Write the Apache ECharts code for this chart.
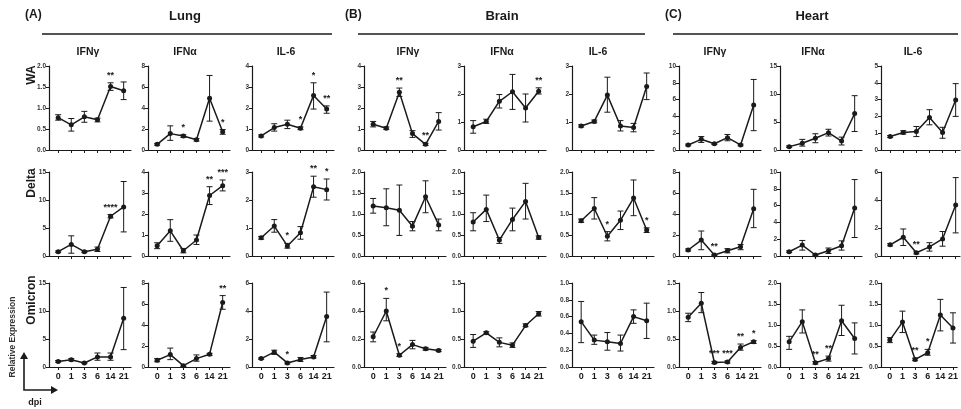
<!DOCTYPE html>
<html>
<head>
<meta charset="utf-8">
<script src="https://cdn.jsdelivr.net/npm/echarts@6/dist/echarts.min.js"></script>
<style>
  html, body { margin: 0; padding: 0; background: #fff; }
  #chart { width: 961px; height: 409px; }
</style>
</head>
<body>
<div id="chart"></div>
<script>
// categories
var dpi = ['0', '1', '3', '6', '14', '21'];
var tissues = ['Lung', 'Brain', 'Heart'];
var panelLetters = ['(A)', '(B)', '(C)'];
var cytokines = ['IFNγ', 'IFNα', 'IL-6'];
var variants = ['WA', 'Delta', 'Omicron'];

// y scales, one row per variant, 9 panels (Lung x3, Brain x3, Heart x3)
var yMax = [[2, 8, 4, 4, 3, 3, 10, 15, 5], [15, 4, 3, 2, 2, 2, 8, 10, 6], [15, 8, 6, 0.6, 1.5, 1, 1.5, 2, 2]];
var yStep = [[0.5, 2, 1, 1, 1, 1, 2, 5, 1], [5, 1, 1, 0.5, 0.5, 0.5, 2, 2, 2], [5, 2, 2, 0.2, 0.5, 0.2, 0.5, 0.5, 0.5]];

// WA
var waMean = [
  [0.77, 0.6, 0.79, 0.72, 1.51, 1.41], [0.54, 1.56, 1.33, 0.98, 4.93, 1.73], [0.67, 1.07, 1.23, 1.04, 2.6, 1.95],
  [1.23, 1.04, 2.75, 0.78, 0.27, 1.36], [0.83, 1.02, 1.74, 2.08, 1.5, 2.1], [0.86, 1.02, 1.96, 0.86, 0.8, 2.27],
  [0.6, 1.27, 0.75, 1.47, 0.6, 5.36], [0.6, 1.2, 2.1, 3.1, 1.6, 6.5], [0.8, 1.04, 1.1, 1.94, 1.04, 2.98]
];
var waLow = [
  [0.71, 0.45, 0.66, 0.67, 1.42, 1.2], [0.45, 0.92, 1.2, 0.85, 2.75, 1.5], [0.62, 0.9, 1.02, 0.97, 1.95, 1.75],
  [1.1, 0.98, 2.55, 0.6, 0.22, 0.95], [0.6, 0.95, 1.5, 1.45, 1.0, 2.0], [0.82, 0.97, 1.35, 0.68, 0.65, 1.8],
  [0.5, 0.9, 0.65, 1.1, 0.5, 2.3], [0.45, 0.7, 1.3, 2.5, 0.9, 3.3], [0.74, 0.95, 0.8, 1.5, 0.7, 2.0]
];
var waHigh = [
  [0.84, 0.75, 0.92, 0.76, 1.6, 1.62], [0.63, 2.3, 1.45, 1.1, 7.1, 1.95], [0.72, 1.25, 1.42, 1.1, 3.2, 2.1],
  [1.36, 1.1, 2.95, 0.92, 0.32, 1.78], [1.05, 1.1, 1.98, 2.7, 2.0, 2.22], [0.9, 1.07, 2.6, 1.05, 0.95, 2.75],
  [0.7, 1.6, 0.85, 1.85, 0.7, 8.4], [0.75, 1.9, 2.9, 3.7, 2.3, 9.7], [0.86, 1.15, 1.4, 2.4, 1.35, 3.95]
];
var waStars = [
  ['', '', '', '', '**', ''], ['', '', '*', '', '', '*'], ['', '', '', '*', '*', '**'],
  ['', '', '**', '', '**', ''], ['', '', '', '', '', '**'], ['', '', '', '', '', ''],
  ['', '', '', '', '', ''], ['', '', '', '', '', ''], ['', '', '', '', '', '']
];

// Delta
var deltaMean = [
  [0.77, 2.07, 0.77, 1.19, 7.1, 8.77], [0.49, 1.2, 0.25, 0.76, 2.88, 3.35], [0.65, 1.07, 0.36, 0.83, 2.47, 2.37],
  [1.19, 1.15, 1.09, 0.71, 1.41, 0.74], [0.81, 1.11, 0.38, 0.87, 1.3, 0.44], [0.84, 1.13, 0.47, 0.85, 1.38, 0.62],
  [0.57, 1.52, 0.1, 0.5, 0.88, 4.5], [0.51, 1.3, 0.12, 0.63, 1.22, 5.7], [0.8, 1.34, 0.23, 0.65, 1.22, 3.65]
];
var deltaLow = [
  [0.6, 0.5, 0.6, 0.8, 6.8, 4.3], [0.35, 0.7, 0.15, 0.55, 2.45, 3.1], [0.6, 0.85, 0.28, 0.6, 2.1, 2.0],
  [1.02, 0.72, 0.49, 0.6, 1.03, 0.6], [0.6, 0.82, 0.3, 0.6, 0.88, 0.4], [0.8, 0.88, 0.36, 0.63, 0.96, 0.56],
  [0.47, 0.6, 0.05, 0.3, 0.6, 2.7], [0.4, 0.7, 0.05, 0.3, 0.7, 2.2], [0.72, 0.75, 0.15, 0.35, 0.7, 1.65]
];
var deltaHigh = [
  [0.9, 3.6, 0.9, 1.6, 7.4, 13.3], [0.63, 1.73, 0.36, 1.0, 3.3, 3.62], [0.7, 1.3, 0.45, 1.05, 2.85, 2.75],
  [1.37, 1.6, 1.69, 0.82, 1.79, 0.88], [1.03, 1.45, 0.44, 1.14, 1.73, 0.48], [0.88, 1.39, 0.58, 1.07, 1.81, 0.67],
  [0.67, 2.38, 0.15, 0.7, 1.1, 6.35], [0.62, 1.85, 0.2, 0.95, 1.8, 9.1], [0.88, 1.93, 0.3, 0.95, 1.75, 5.6]
];
var deltaStars = [
  ['', '', '', '', '****', ''], ['', '', '', '', '**', '***'], ['', '', '*', '', '**', '*'],
  ['', '', '', '', '', ''], ['', '', '', '', '', ''], ['', '', '*', '', '', '*'],
  ['', '', '**', '', '', ''], ['', '', '', '', '', ''], ['', '', '**', '', '', '']
];

// Omicron
var omicronMean = [
  [1.0, 1.3, 0.72, 1.8, 1.8, 8.7], [0.64, 1.18, 0.13, 0.8, 1.22, 6.14], [0.6, 1.06, 0.29, 0.53, 0.72, 3.6],
  [0.216, 0.4, 0.084, 0.16, 0.13, 0.118], [0.46, 0.61, 0.44, 0.39, 0.74, 0.95], [0.54, 0.32, 0.3, 0.28, 0.6, 0.55],
  [0.89, 1.14, 0.08, 0.09, 0.35, 0.45], [0.6, 1.08, 0.1, 0.2, 1.1, 0.68], [0.64, 1.07, 0.18, 0.34, 1.24, 0.93]
];
var omicronLow = [
  [0.85, 1.1, 0.6, 1.2, 1.2, 3.1], [0.5, 0.7, 0.05, 0.55, 1.1, 5.5], [0.55, 0.9, 0.22, 0.4, 0.65, 1.8],
  [0.18, 0.33, 0.075, 0.13, 0.12, 0.11], [0.35, 0.59, 0.36, 0.35, 0.72, 0.91], [0.29, 0.27, 0.2, 0.19, 0.52, 0.34],
  [0.81, 0.97, 0.06, 0.07, 0.3, 0.42], [0.42, 0.81, 0.07, 0.14, 0.75, 0.31], [0.58, 0.82, 0.15, 0.28, 0.86, 0.57]
];
var omicronHigh = [
  [1.15, 1.5, 0.85, 2.5, 2.5, 14.2], [0.8, 1.8, 0.2, 1.15, 1.3, 6.8], [0.65, 1.2, 0.35, 0.68, 0.82, 5.35],
  [0.25, 0.49, 0.095, 0.19, 0.14, 0.126], [0.58, 0.63, 0.52, 0.43, 0.77, 0.99], [0.78, 0.38, 0.41, 0.38, 0.68, 0.76],
  [0.96, 1.33, 0.1, 0.11, 0.41, 0.47], [0.73, 1.36, 0.13, 0.26, 1.47, 1.05], [0.7, 1.33, 0.21, 0.42, 1.61, 1.29]
];
var omicronStars = [
  ['', '', '', '', '', ''], ['', '', '', '', '', '**'], ['', '', '*', '', '', ''],
  ['', '*', '*', '', '', ''], ['', '', '', '', '', ''], ['', '', '', '', '', ''],
  ['', '', '***', '***', '**', '*'], ['', '', '**', '**', '', ''], ['', '', '**', '*', '', '']
];

var chart = echarts.init(document.getElementById('chart'));

var rows = [
  [waMean, waLow, waHigh, waStars],
  [deltaMean, deltaLow, deltaHigh, deltaStars],
  [omicronMean, omicronLow, omicronHigh, omicronStars]
];

// layout
var colLeft = [49, 148, 252, 364, 464, 572, 679, 780, 881];
var rowTop = [66, 172, 283];
var pxPerDay = 13.1;
var font = 'Arial, "Liberation Sans", sans-serif';
var ink = '#1a1a1a';

var grids = [], xAxes = [], yAxes = [], series = [];

rows.forEach(function (set, r) {
  for (var c = 0; c < 9; c++) {
    var k = grids.length;
    var w = c === 8 ? 79 : 82;
    var step = yStep[r][c];
    grids.push({ left: colLeft[c], top: rowTop[r], width: w, height: 84 });
    xAxes.push({
      gridIndex: k, type: 'value', min: -0.7, max: -0.7 + w / pxPerDay,
      splitLine: { show: false },
      axisLine: { onZero: false, lineStyle: { color: ink, width: 1.2 } },
      axisTick: { customValues: [0, 1, 2, 3, 4, 5], length: 3, lineStyle: { color: ink, width: 1 } },
      axisLabel: {
        show: r === 2, customValues: [0, 1, 2, 3, 4, 5], margin: 5,
        fontSize: 9, fontWeight: 'bold', color: ink, fontFamily: font,
        formatter: function (v) { return dpi[Math.round(v)]; }
      }
    });
    yAxes.push({
      gridIndex: k, type: 'value', min: 0, max: yMax[r][c], interval: step,
      splitLine: { show: false },
      axisLine: { show: true, onZero: false, lineStyle: { color: ink, width: 1.2 } },
      axisTick: { show: true, length: 3, lineStyle: { color: ink, width: 1 } },
      axisLabel: {
        margin: 3, fontSize: 6.5, fontWeight: 'bold', color: '#333', fontFamily: font,
        formatter: (function (s) { return function (v) { return v.toFixed(s < 1 ? 1 : 0); }; })(step)
      }
    });

    var mean = set[0][c], low = set[1][c], high = set[2][c], stars = set[3][c];

    // error bars with caps, significance stars above
    series.push({
      type: 'custom', xAxisIndex: k, yAxisIndex: k, clip: false, z: 2,
      data: low.map(function (v, i) { return [i, v, high[i]]; }),
      encode: { x: 0, y: [1, 2] },
      renderItem: (function (stars) {
        return function (params, api) {
          var x = api.value(0);
          var lo = api.coord([x, api.value(1)]);
          var hi = api.coord([x, api.value(2)]);
          var st = { stroke: ink, lineWidth: 1 };
          var kids = [
            { type: 'line', shape: { x1: lo[0], y1: lo[1], x2: hi[0], y2: hi[1] }, style: st },
            { type: 'line', shape: { x1: hi[0] - 3, y1: hi[1], x2: hi[0] + 3, y2: hi[1] }, style: st },
            { type: 'line', shape: { x1: lo[0] - 3, y1: lo[1], x2: lo[0] + 3, y2: lo[1] }, style: st }
          ];
          var s = stars[params.dataIndex];
          if (s) {
            kids.push({
              type: 'text', x: hi[0], y: hi[1] - 3,
              style: { text: s, fill: ink, font: 'bold 9px Arial', align: 'center', verticalAlign: 'bottom' }
            });
          }
          return { type: 'group', children: kids };
        };
      })(stars)
    });

    series.push({
      type: 'line', xAxisIndex: k, yAxisIndex: k, z: 3,
      data: mean.map(function (v, i) { return [i, v]; }),
      symbol: 'circle', symbolSize: 5, showSymbol: true,
      itemStyle: { color: ink },
      lineStyle: { color: ink, width: 1.5 },
      silent: true, animation: false
    });
  }
});

// headers, rules, row labels, arrows
var graphics = [];
var headerX = [185, 502, 812];
var letterX = [25, 345, 665];
var ruleSpan = [[42, 332], [358, 645], [673, 958]];
var titleX = [88, 185, 286, 408, 502, 598, 715, 813, 913];

tissues.forEach(function (t, i) {
  graphics.push({ type: 'text', x: letterX[i], y: 15, style: { text: panelLetters[i], font: 'bold 12px Arial', fill: ink, verticalAlign: 'middle' } });
  graphics.push({ type: 'text', x: headerX[i], y: 16, style: { text: t, font: 'bold 13px Arial', fill: ink, align: 'center', verticalAlign: 'middle' } });
  graphics.push({ type: 'line', shape: { x1: ruleSpan[i][0], y1: 34, x2: ruleSpan[i][1], y2: 34 }, style: { stroke: ink, lineWidth: 1.3 } });
});
titleX.forEach(function (x, i) {
  graphics.push({ type: 'text', x: x, y: 52, style: { text: cytokines[i % 3], font: 'bold 10.5px Arial', fill: ink, align: 'center', verticalAlign: 'middle' } });
});
var rowLabelY = [75, 183, 300];
variants.forEach(function (v, i) {
  graphics.push({ type: 'text', x: 32, y: rowLabelY[i], rotation: Math.PI / 2, style: { text: v, font: 'bold 12px Arial', fill: ink, align: 'center', verticalAlign: 'middle' } });
});
graphics.push({ type: 'text', x: 13, y: 337, rotation: Math.PI / 2, style: { text: 'Relative Expression', font: 'bold 8.5px Arial', fill: '#333', align: 'center', verticalAlign: 'middle' } });
graphics.push({ type: 'polyline', shape: { points: [[24, 356], [24, 390], [54, 390]] }, style: { stroke: ink, lineWidth: 1.6, fill: null } });
graphics.push({ type: 'polygon', shape: { points: [[20, 359], [24, 352], [28, 359]] }, style: { fill: ink } });
graphics.push({ type: 'polygon', shape: { points: [[51, 386], [58, 390], [51, 394]] }, style: { fill: ink } });
graphics.push({ type: 'text', x: 35, y: 403, style: { text: 'dpi', font: 'bold 9px Arial', fill: ink, align: 'center', verticalAlign: 'middle' } });

chart.setOption({
  animation: false,
  backgroundColor: '#fff',
  grid: grids,
  xAxis: xAxes,
  yAxis: yAxes,
  series: series,
  graphic: graphics
});
</script>
</body>
</html>
